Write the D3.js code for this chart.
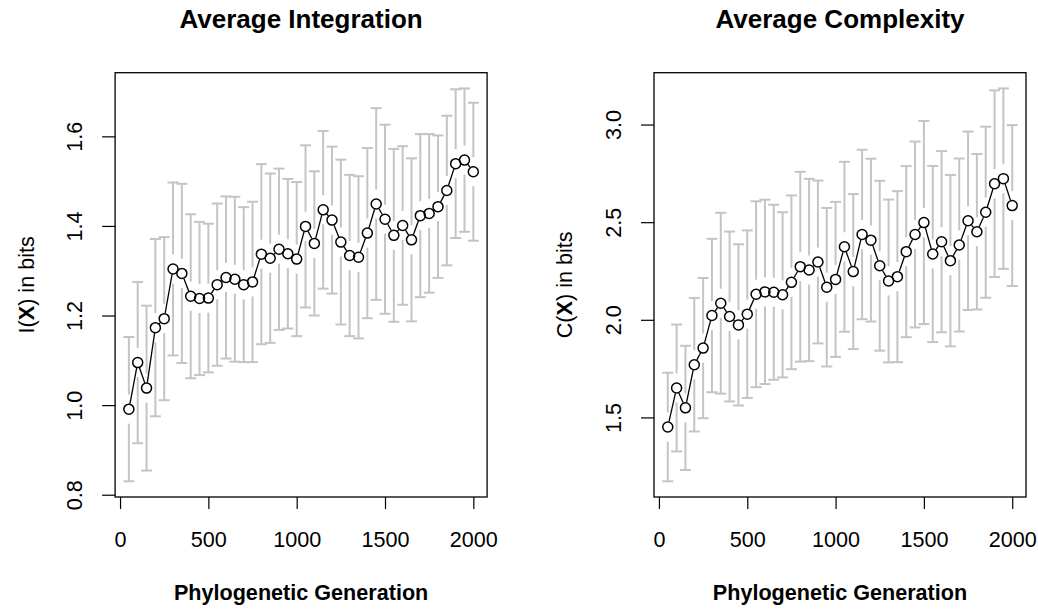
<!DOCTYPE html>
<html>
<head>
<meta charset="utf-8">
<script src="https://cdn.jsdelivr.net/npm/d3@7"></script>
<style>
  html, body { margin: 0; padding: 0; background: #fff; }
  svg { display: block; font-family: "Liberation Sans", Arial, Helvetica, sans-serif; }
</style>
</head>
<body>
<svg id="chart" width="1038" height="609"></svg>
<script>
// Phylogenetic generation at which each population was sampled
const generations = [50, 100, 150, 200, 250, 300, 350, 400, 450, 500,
  550, 600, 650, 700, 750, 800, 850, 900, 950, 1000,
  1050, 1100, 1150, 1200, 1250, 1300, 1350, 1400, 1450, 1500,
  1550, 1600, 1650, 1700, 1750, 1800, 1850, 1900, 1950, 2000];

// Integration I(X): mean and standard deviation (bits)
const integrationMean = [0.991, 1.095, 1.038, 1.173, 1.193, 1.304, 1.294, 1.243, 1.238, 1.239,
  1.269, 1.285, 1.281, 1.269, 1.275, 1.337, 1.328, 1.348, 1.338, 1.326,
  1.399, 1.361, 1.436, 1.413, 1.364, 1.334, 1.330, 1.384, 1.449, 1.415,
  1.379, 1.401, 1.369, 1.423, 1.428, 1.443, 1.479, 1.539, 1.547, 1.521];
const integrationSd = [0.161, 0.180, 0.184, 0.198, 0.182, 0.193, 0.200, 0.183, 0.171, 0.166,
  0.181, 0.181, 0.184, 0.173, 0.179, 0.201, 0.189, 0.180, 0.167, 0.172,
  0.181, 0.161, 0.176, 0.164, 0.184, 0.180, 0.181, 0.190, 0.214, 0.211,
  0.193, 0.177, 0.182, 0.182, 0.177, 0.159, 0.167, 0.166, 0.160, 0.154];

// Complexity C(X): mean and standard deviation (bits)
const complexityMean = [1.451, 1.651, 1.549, 1.770, 1.855, 2.022, 2.085, 2.017, 1.974, 2.029,
  2.131, 2.143, 2.141, 2.128, 2.192, 2.272, 2.255, 2.296, 2.167, 2.207,
  2.374, 2.247, 2.437, 2.408, 2.277, 2.199, 2.221, 2.349, 2.437, 2.498,
  2.337, 2.400, 2.303, 2.383, 2.507, 2.451, 2.551, 2.697, 2.723, 2.585];
const complexitySd = [0.278, 0.325, 0.318, 0.342, 0.359, 0.393, 0.463, 0.435, 0.413, 0.429,
  0.476, 0.472, 0.448, 0.423, 0.445, 0.486, 0.467, 0.417, 0.406, 0.397,
  0.435, 0.397, 0.434, 0.417, 0.435, 0.417, 0.438, 0.438, 0.476, 0.520,
  0.451, 0.464, 0.439, 0.443, 0.457, 0.398, 0.438, 0.478, 0.462, 0.412];

// Axis ticks
const generationTicks = [0, 500, 1000, 1500, 2000];
const integrationTicks = [0.8, 1.0, 1.2, 1.4, 1.6];
const complexityTicks = [1.5, 2.0, 2.5, 3.0];

const svg = d3.select("#chart");
const BASE = 21.6;         // base font size
const TOP = 72.7, BOTTOM = 497;
const GAP = 14.5;          // gap in error bars around each point
const CAP = 5.5;           // half-width of the error-bar caps
const R = 5;               // point radius

const panels = [
  { title: "Average Integration", sym: "I", mean: integrationMean, sd: integrationSd,
    ticks: integrationTicks, left: 115.1, right: 487.1 },
  { title: "Average Complexity", sym: "C", mean: complexityMean, sd: complexitySd,
    ticks: complexityTicks, left: 654, right: 1026 }
];

// pad a range by 4% on each side, like a default plot
function padded(lo, hi) {
  const d = (hi - lo) * 0.04;
  return [lo - d, hi + d];
}

panels.forEach(p => {
  const rows = generations.map((g, i) => ({
    g, m: p.mean[i], lo: p.mean[i] - p.sd[i], hi: p.mean[i] + p.sd[i]
  }));

  const x = d3.scaleLinear()
    .domain(padded(d3.min(generations), d3.max(generations)))
    .range([p.left, p.right]);
  const y = d3.scaleLinear()
    .domain(padded(d3.min(rows, r => r.lo), d3.max(rows, r => r.hi)))
    .range([BOTTOM, TOP]);

  const g = svg.append("g");

  // error bars with a gap around the point
  const eb = g.append("g")
    .attr("stroke", "#c4c4c4").attr("stroke-width", 2).attr("fill", "none");
  rows.forEach(r => {
    const cx = x(r.g), cy = y(r.m), yt = y(r.hi), yb = y(r.lo);
    if (cy - GAP > yt) eb.append("line").attr("x1", cx).attr("x2", cx).attr("y1", cy - GAP).attr("y2", yt);
    if (cy + GAP < yb) eb.append("line").attr("x1", cx).attr("x2", cx).attr("y1", cy + GAP).attr("y2", yb);
    eb.append("line").attr("x1", cx - CAP).attr("x2", cx + CAP).attr("y1", yt).attr("y2", yt);
    eb.append("line").attr("x1", cx - CAP).attr("x2", cx + CAP).attr("y1", yb).attr("y2", yb);
  });

  // connecting line, broken around the points
  const ln = g.append("g").attr("stroke", "#000").attr("stroke-width", 1.3);
  for (let i = 1; i < rows.length; i++) {
    const x0 = x(rows[i - 1].g), y0 = y(rows[i - 1].m);
    const x1 = x(rows[i].g), y1 = y(rows[i].m);
    const dx = x1 - x0, dy = y1 - y0, len = Math.hypot(dx, dy);
    const cut = R + 0.5;
    if (len <= 2 * cut) continue;
    const ux = dx / len, uy = dy / len;
    ln.append("line")
      .attr("x1", x0 + ux * cut).attr("y1", y0 + uy * cut)
      .attr("x2", x1 - ux * cut).attr("y2", y1 - uy * cut);
  }

  // open circles
  g.append("g").selectAll("circle").data(rows).join("circle")
    .attr("cx", r => x(r.g)).attr("cy", r => y(r.m)).attr("r", R)
    .attr("fill", "none").attr("stroke", "#000").attr("stroke-width", 1.5);

  // plot frame
  g.append("rect")
    .attr("x", p.left).attr("y", TOP)
    .attr("width", p.right - p.left).attr("height", BOTTOM - TOP)
    .attr("fill", "none").attr("stroke", "#000").attr("stroke-width", 1.3);

  // x axis
  const xa = g.append("g").attr("transform", `translate(0,${BOTTOM})`)
    .call(d3.axisBottom(x).tickValues(generationTicks).tickFormat(d3.format("d"))
      .tickSize(12).tickPadding(23).tickSizeOuter(0));
  xa.select(".domain").remove();
  xa.selectAll("line").attr("stroke", "#000").attr("stroke-width", 1.2);
  xa.selectAll("text").attr("font-size", BASE).attr("fill", "#000")
    .attr("font-family", "Liberation Sans, Arial, sans-serif");

  // y axis, labels turned parallel to the axis
  const ya = g.append("g").attr("transform", `translate(${p.left},0)`)
    .call(d3.axisLeft(y).tickValues(p.ticks).tickSize(13).tickFormat(d3.format(".1f")).tickSizeOuter(0));
  ya.select(".domain").remove();
  ya.selectAll("line").attr("stroke", "#000").attr("stroke-width", 1.2);
  ya.selectAll("text")
    .attr("x", null).attr("dy", null)
    .attr("text-anchor", "middle")
    .attr("transform", "translate(-33,0) rotate(-90)")
    .attr("font-size", BASE).attr("fill", "#000")
    .attr("font-family", "Liberation Sans, Arial, sans-serif");

  const cx = (p.left + p.right) / 2;

  // title
  g.append("text").attr("x", cx).attr("y", 28)
    .attr("text-anchor", "middle").attr("font-weight", "bold").attr("font-size", 26)
    .text(p.title);

  // x label
  g.append("text").attr("x", cx).attr("y", 600)
    .attr("text-anchor", "middle").attr("font-weight", "bold").attr("font-size", BASE)
    .text("Phylogenetic Generation");

  // y label: I(X) / C(X) in bits, with a bold X
  const yl = g.append("text")
    .attr("transform", `translate(${p.left - 81.6},${(TOP + BOTTOM) / 2}) rotate(-90)`)
    .attr("text-anchor", "middle").attr("font-size", BASE);
  yl.append("tspan").text(p.sym + "(");
  yl.append("tspan").attr("font-weight", "bold").text("X");
  yl.append("tspan").text(") in bits");
});
</script>
</body>
</html>
